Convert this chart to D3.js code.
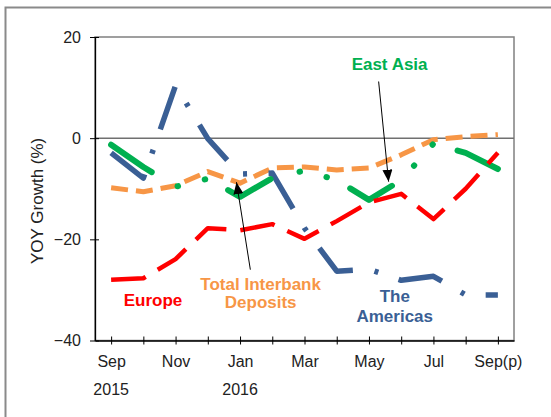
<!DOCTYPE html>
<html lang="en">
<head>
    <meta charset="UTF-8">
    <title>Interbank deposits - YOY growth</title>
    <script src="https://d3js.org/d3.v7.min.js"></script>
    <style>
        html, body {
            margin: 0;
            background: #fff;
        }
        svg {
            display: block;
            font-family: "Liberation Sans", Arial, sans-serif;
        }
    </style>
</head>
<body>
    <div id="vis"></div>
    <script>

        // data (YOY growth, %)
        var months = ['Sep', 'Oct', 'Nov', 'Dec', 'Jan', 'Feb', 'Mar', 'Apr', 'May', 'Jun', 'Jul', 'Aug', 'Sep(p)'];
        var shownMonths = ['Sep', 'Nov', 'Jan', 'Mar', 'May', 'Jul', 'Sep(p)'];
        var years = [['Sep', '2015'], ['Jan', '2016']];
        var yTicks = [20, 0, -20, -40];

        var europe    = [-28.0, -27.7, -23.9, -17.8, -18.2, -17.0, -19.9, -16.4, -12.7, -11.0, -16.0, -10.0, -2.9];
        var americas  = [-2.9, -7.9, 10.4, -0.1, -7.1, -6.9, -17.8, -26.3, -25.9, -28.1, -27.3, -31.0, -31.0];
        var eastAsia  = [-1.3, -5.7, -9.6, -8.0, -11.6, -7.9, -6.4, -8.3, -12.2, -8.3, -1.1, -2.9, -6.1];
        var interbank = [-9.8, -10.6, -9.4, -6.6, -8.9, -5.9, -5.7, -6.3, -5.9, -3.3, -0.3, 0.3, 0.7];

        var view_width = 551, view_height = 417;
        var margin = {top: 37, left: 95, right: 37, bottom: 76.5};
        var width = view_width - margin.left - margin.right;
        var height = view_height - margin.top - margin.bottom;

        var svg = d3.select('#vis')
            .append('svg')
                .attr('width', view_width)
                .attr('height', view_height);

        // outer chart frame (runs off the picture right and bottom)
        svg.append('rect')
            .attr('x', 5.5).attr('y', 7.5)
            .attr('width', 700).attr('height', 600)
            .attr('fill', 'none')
            .attr('stroke', '#8a8a8a')
            .attr('stroke-width', 2);

        var g = svg.append('g')
            .attr('transform', 'translate(' + margin.left + ',' + margin.top + ')');

        var x_scale = d3.scalePoint()
            .domain(months)
            .range([0, width])
            .padding(0.5);

        var y_scale = d3.scaleLinear()
            .domain([-40, 20])
            .range([height, 0]);

        // index based position, used to place the notes
        function xAt(i) {
            return x_scale(months[0]) + i * x_scale.step();
        }

        // plot area border and zero line
        g.append('rect')
            .attr('width', width)
            .attr('height', height)
            .attr('fill', 'none')
            .attr('stroke', '#808080')
            .attr('stroke-width', 1.5);

        g.append('line')
            .attr('x1', 0).attr('x2', width)
            .attr('y1', y_scale(0)).attr('y2', y_scale(0))
            .attr('stroke', '#707070')
            .attr('stroke-width', 1.5);

        // axes
        var y_axis = d3.axisLeft(y_scale)
            .tickValues(yTicks)
            .tickSize(5)
            .tickPadding(9)
            .tickSizeOuter(0);

        var yg = g.append('g').call(y_axis);
        yg.selectAll('.tick line').attr('x1', 4).attr('stroke', '#000');
        yg.select('.domain').attr('stroke', '#000').attr('stroke-width', 1.3);
        yg.selectAll('text')
            .attr('font-size', 16)
            .attr('fill', '#222')
            .attr('font-family', '"Liberation Sans", Arial, sans-serif');

        var x_axis = d3.axisBottom(x_scale)
            .tickSize(4)
            .tickPadding(11)
            .tickSizeOuter(0)
            .tickFormat(function(d){ return shownMonths.indexOf(d) >= 0 ? d : ''; });

        var xg = g.append('g')
            .attr('transform', 'translate(0,' + height + ')')
            .call(x_axis);
        xg.selectAll('.tick line').attr('y1', -4).attr('stroke', '#000');
        xg.select('.domain').attr('stroke', '#000').attr('stroke-width', 1.3);
        xg.selectAll('text')
            .attr('font-size', 16)
            .attr('fill', '#222')
            .attr('font-family', '"Liberation Sans", Arial, sans-serif');

        g.selectAll('.year')
            .data(years)
            .enter()
            .append('text')
                .attr('class', 'year')
                .attr('x', function(d){ return x_scale(d[0]); })
                .attr('y', height + 54)
                .attr('text-anchor', 'middle')
                .attr('font-size', 16)
                .attr('fill', '#222')
                .text(function(d){ return d[1]; });

        svg.append('text')
            .attr('transform', 'translate(43,' + (margin.top + height * 0.54) + ')rotate(-90)')
            .attr('text-anchor', 'middle')
            .attr('font-size', 17)
            .attr('fill', '#222')
            .text('YOY Growth (%)');

        // series, drawn in chart order
        var series = [
            {values: interbank, color: '#F79646', width: 5,   dash: '17,8',                    cap: 'butt'},
            {values: americas,  color: '#3A5F95', width: 5.5, dash: '45,22,4,21.5',            cap: 'butt'},
            {values: eastAsia,  color: '#00B050', width: 6,   dash: '49,30,0.5,27.5,0.5,26',   cap: 'round'},
            {values: europe,    color: '#FF0000', width: 4.5, dash: '35,14',                   cap: 'butt'}
        ];

        var line = d3.line()
            .x(function(d, i){ return x_scale(months[i]); })
            .y(function(d){ return y_scale(d); });

        g.selectAll('.series')
            .data(series)
            .enter()
            .append('path')
                .attr('class', 'series')
                .attr('d', function(d){ return line(d.values); })
                .attr('fill', 'none')
                .attr('stroke', function(d){ return d.color; })
                .attr('stroke-width', function(d){ return d.width; })
                .attr('stroke-dasharray', function(d){ return d.dash; })
                .attr('stroke-linecap', function(d){ return d.cap; })
                .attr('stroke-linejoin', 'round');

        // notes: position as [month index, value], gap = line spacing
        var notes = [
            {lines: ['East Asia'], at: [8.64, 13.4], color: '#00B050', gap: 0},
            {lines: ['Total Interbank', 'Deposits'], at: [4.64, -30.0], color: '#F79646', gap: 18},
            {lines: ['Europe'], at: [1.30, -33.2], color: '#FF0000', gap: 0},
            {lines: ['The', 'Americas'], at: [8.80, -32.4], color: '#3A5F95', gap: 20}
        ];

        var arrows = [
            {from: [8.30, 11.2], to: [8.61, -8.6]},
            {from: [4.32, -26.0], to: [3.89, -8.7]}
        ];

        svg.append('defs').append('marker')
            .attr('id', 'head')
            .attr('markerUnits', 'userSpaceOnUse')
            .attr('markerWidth', 13).attr('markerHeight', 10)
            .attr('refX', 12).attr('refY', 5)
            .attr('orient', 'auto')
            .append('path')
                .attr('d', 'M0,0L12,5L0,10Z')
                .attr('fill', '#000');

        g.selectAll('.arrow')
            .data(arrows)
            .enter()
            .append('line')
                .attr('class', 'arrow')
                .attr('x1', function(d){ return xAt(d.from[0]); })
                .attr('y1', function(d){ return y_scale(d.from[1]); })
                .attr('x2', function(d){ return xAt(d.to[0]); })
                .attr('y2', function(d){ return y_scale(d.to[1]); })
                .attr('stroke', '#000')
                .attr('stroke-width', 1)
                .attr('marker-end', 'url(#head)');

        // one text element per note line
        notes.forEach(function(n){
            n.lines.forEach(function(t, i){
                g.append('text')
                    .attr('class', 'note')
                    .attr('x', xAt(n.at[0]))
                    .attr('y', y_scale(n.at[1]) + i * n.gap)
                    .attr('text-anchor', 'middle')
                    .attr('font-size', 17)
                    .attr('font-weight', 'bold')
                    .attr('fill', n.color)
                    .text(t);
            });
        });

    </script>
</body>
</html>
